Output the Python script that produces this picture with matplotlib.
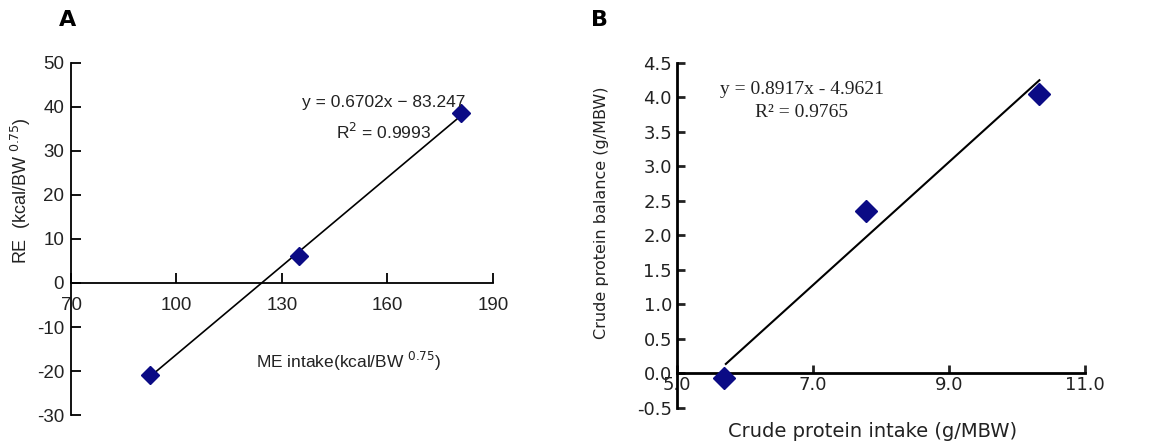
import matplotlib.pyplot as plt
import numpy as np

plt.rcParams['axes.unicode_minus'] = False

# Panel A: energy
me_intake = [92.6, 134.8, 180.9]
re_values = [-20.8, 6.2, 38.7]
slope_a, icpt_a = 0.6702, -83.247
xticks_a = [70, 100, 130, 160, 190]
yticks_a = [-30, -20, -10, 0, 10, 20, 30, 40, 50]

# Panel B: crude protein
cp_intake = [5.70, 7.78, 10.33]
cp_balance = [-0.06, 2.36, 4.05]
slope_b, icpt_b = 0.8917, -4.9621
xticks_b = [5.0, 7.0, 9.0, 11.0]
yticks_b = [-0.5, 0.0, 0.5, 1.0, 1.5, 2.0, 2.5, 3.0, 3.5, 4.0, 4.5]

navy = '#0b0b85'
sansA = ['Liberation Sans', 'DejaVu Sans']
ink = '#222222'

fig = plt.figure(figsize=(11.65, 4.43), dpi=100)

# ---------- A ----------
axA = fig.add_axes([0.061, 0.0632, 0.362, 0.7946])
axA.set_xlim(70, 190)
axA.set_ylim(-30, 50)
for s in ['top', 'right']:
    axA.spines[s].set_visible(False)
axA.spines['bottom'].set_position(('data', 0))
axA.spines['bottom'].set_linewidth(1.3)
axA.spines['left'].set_linewidth(1.3)
axA.set_xticks(xticks_a)
axA.set_yticks(yticks_a)
axA.tick_params(direction='in', length=7, width=1.3, labelsize=13.5, pad=5)
axA.tick_params(axis='x', pad=10)
for lab in axA.get_xticklabels() + axA.get_yticklabels():
    lab.set_family(sansA)
    lab.set_color(ink)
xa = np.array([me_intake[0], me_intake[-1]])
axA.plot(xa, slope_a * xa + icpt_a, color='black', lw=1.2)
axA.plot(me_intake, re_values, 'D', color=navy, ms=9, zorder=5)
fig.text(0.329, 0.7675, 'y = 0.6702x \u2212 83.247', ha='center', va='center',
         fontsize=12.5, family=sansA, color=ink)
fig.text(0.3296, 0.702, 'R$^{2}$ = 0.9993', ha='center', va='center',
         fontsize=12.5, family=sansA, color=ink)
fig.text(0.299, 0.183, 'ME intake(kcal/BW $^{0.75}$)', ha='center', va='center',
         fontsize=12.5, family=sansA, color=ink)
fig.text(0.018, 0.57, 'RE  (kcal/BW $^{0.75}$)', rotation=90, ha='center',
         va='center', fontsize=13, family=sansA, color=ink)
fig.text(0.058, 0.955, 'A', fontsize=16, fontweight='bold', ha='center', va='center')

# ---------- B ----------
axB = fig.add_axes([0.581, 0.079, 0.3503, 0.779])
axB.set_xlim(5.0, 11.0)
axB.set_ylim(-0.5, 4.5)
for s in ['top', 'right']:
    axB.spines[s].set_visible(False)
axB.spines['bottom'].set_position(('data', 0))
axB.spines['bottom'].set_linewidth(2)
axB.spines['left'].set_linewidth(2)
axB.set_xticks(xticks_b)
axB.set_xticklabels(['%.1f' % v for v in xticks_b])
axB.set_yticks(yticks_b)
axB.set_yticklabels(['%.1f' % v for v in yticks_b])
axB.tick_params(direction='in', length=6, width=2, labelsize=13, colors=ink)
axB.tick_params(axis='x', pad=2)
xb = np.array([cp_intake[0] + 0.02, cp_intake[-1]])
axB.plot(xb, slope_b * xb + icpt_b, color='black', lw=1.5)
axB.plot(cp_intake, cp_balance, 'D', color=navy, ms=11, zorder=5)
fig.text(0.688, 0.799, 'y = 0.8917x - 4.9621', ha='center', va='center',
         fontsize=14, family='Liberation Serif', color=ink)
fig.text(0.688, 0.745, 'R\u00b2 = 0.9765', ha='center', va='center',
         fontsize=14, family='Liberation Serif', color=ink)
fig.text(0.749, 0.025, 'Crude protein intake (g/MBW)', ha='center', va='center',
         fontsize=14, color=ink)
fig.text(0.516, 0.52, 'Crude protein balance (g/MBW)', rotation=90, ha='center',
         va='center', fontsize=11.5, color=ink)
fig.text(0.515, 0.955, 'B', fontsize=16, fontweight='bold', ha='center', va='center')

fig.savefig('out.png', dpi=100)
